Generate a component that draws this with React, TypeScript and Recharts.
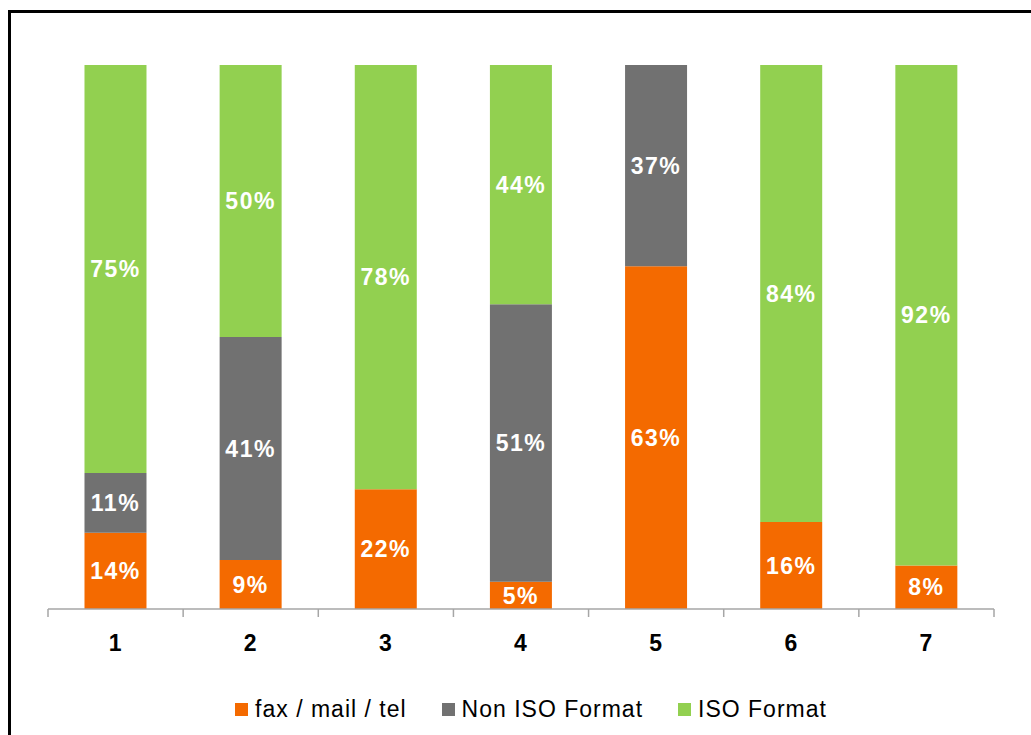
import React from 'react';
import { BarChart, Bar, XAxis, YAxis, Legend, LabelList } from 'recharts';

const categories = ['1', '2', '3', '4', '5', '6', '7'];
const faxMailTel = [14, 9, 22, 5, 63, 16, 8];
const nonIsoFormat = [11, 41, 0, 51, 37, 0, 0];
const isoFormat = [75, 50, 78, 44, 0, 84, 92];

const seriesNames = ['fax / mail / tel', 'Non ISO Format', 'ISO Format'];
const seriesKeys = ['fax', 'nonIso', 'iso'];
const seriesColors = ['#F46A00', '#717171', '#92D050'];

const data = categories.map((c, i) => ({
  name: c,
  fax: faxMailTel[i],
  nonIso: nonIsoFormat[i],
  iso: isoFormat[i],
}));

const FONT = '"Liberation Sans", Arial, sans-serif';
const AXIS_COLOR = '#A6A6A6';

const CustomTick = (props: any) => {
  const { x, y, payload, index } = props;
  const half = payload && payload.offset ? payload.offset : 67.57;
  return (
    <g>
      <line x1={x - half} y1={y - 8} x2={x - half} y2={y} stroke={AXIS_COLOR} strokeWidth={1.5} />
      {index === categories.length - 1 && (
        <line x1={x + half} y1={y - 8} x2={x + half} y2={y} stroke={AXIS_COLOR} strokeWidth={1.5} />
      )}
      <text x={x} y={y + 28} textAnchor="middle" dominantBaseline="middle" fontFamily={FONT} fontWeight="bold" fontSize={23} letterSpacing={1} fill="#000">
        {payload.value}
      </text>
    </g>
  );
};

const LegendContent = () => (
  <div style={{ display: 'flex', justifyContent: 'center', alignItems: 'center', fontFamily: FONT, fontSize: 23, letterSpacing: 1, color: '#000', paddingLeft: 20, height: 26 }}>
    {seriesNames.map((n, i) => (
      <div key={n} style={{ display: 'flex', alignItems: 'center', marginRight: i < 2 ? 35 : 0 }}>
        <span style={{ width: 13, height: 13, background: seriesColors[i], display: 'inline-block', marginRight: 7 }} />
        <span>{n}</span>
      </div>
    ))}
  </div>
);

const fmt = (v: any) => (v ? `${v}%` : '');

export default function App() {
  return (
    <div style={{ position: 'fixed', left: 0, top: 0, width: 1031, height: 735, overflow: 'hidden', background: '#fff' }}>
      <div style={{ position: 'absolute', left: 8, top: 10, width: 1100, height: 800, border: '3px solid #000' }} />
      <div style={{ position: 'absolute', left: 0, top: 0 }}>
        <BarChart
          width={1031}
          height={735}
          data={data}
          margin={{ top: 65, right: 37, left: 48, bottom: 0 }}
          barCategoryGap="27%"
        >
          <YAxis hide domain={[0, 100]} type="number" />
          <XAxis
            dataKey="name"
            axisLine={{ stroke: AXIS_COLOR, strokeWidth: 1.5 }}
            tickLine={false}
            tick={<CustomTick />}
            height={87}
            interval={0}
          />
          <Legend verticalAlign="bottom" height={39} content={<LegendContent />} />
          {seriesKeys.map((k, i) => (
            <Bar key={k} dataKey={k} name={seriesNames[i]} stackId="a" fill={seriesColors[i]} isAnimationActive={false}>
              <LabelList dataKey={k} position="center" formatter={fmt} fill="#fff" fontFamily={FONT} fontWeight="bold" fontSize={23} letterSpacing={1.5} />
            </Bar>
          ))}
        </BarChart>
      </div>
    </div>
  );
}
